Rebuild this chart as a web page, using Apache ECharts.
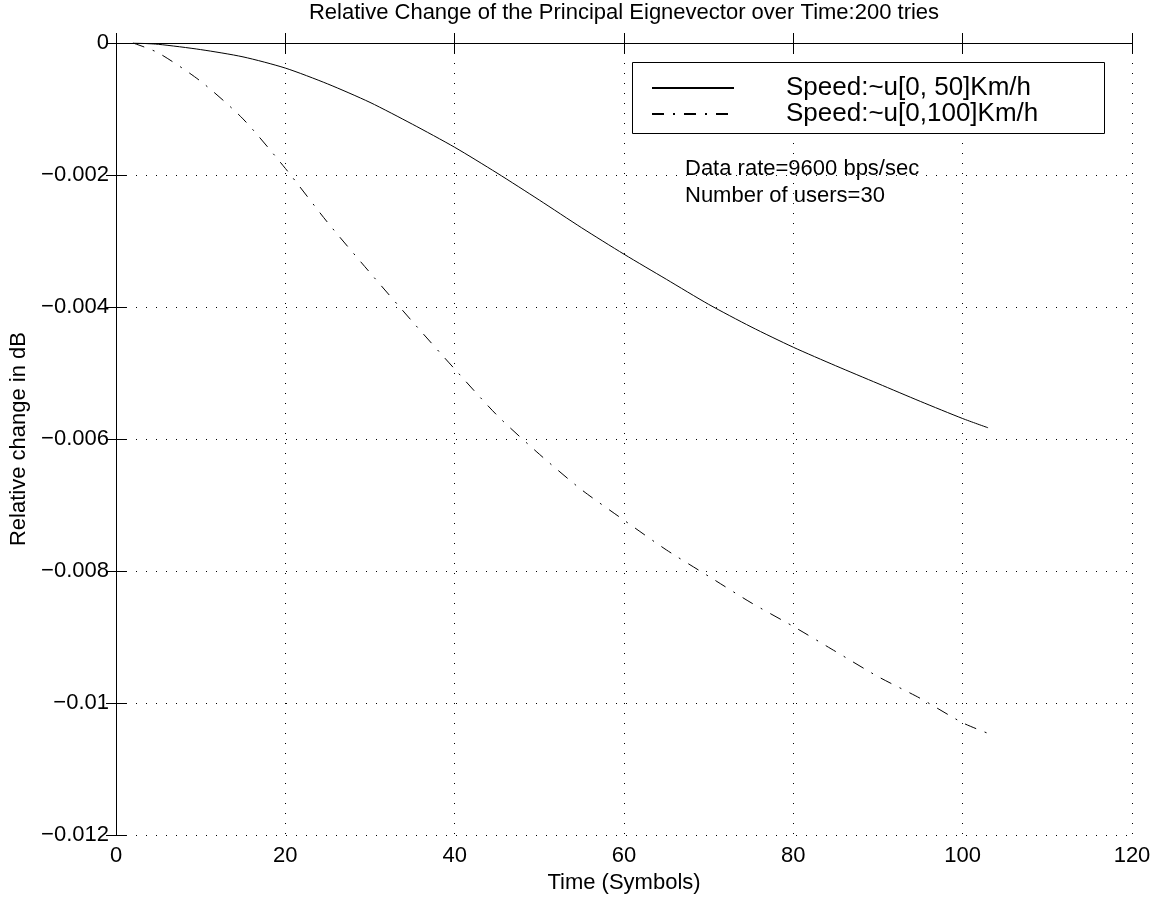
<!DOCTYPE html>
<html>
<head>
<meta charset="utf-8">
<script src="https://cdn.jsdelivr.net/npm/echarts@6/dist/echarts.min.js"></script>
<style>
html,body{margin:0;padding:0;background:#fff;}
#chart{width:1163px;height:900px;}
</style>
</head>
<body>
<div id="chart"></div>
<script>
// ---- data ----
var titleText = 'Relative Change of the Principal Eignevector over Time:200 tries';
var xAxisName = 'Time (Symbols)';
var yAxisName = 'Relative change in dB';
var seriesNames = ['Speed:~u[0, 50]Km/h', 'Speed:~u[0,100]Km/h'];
var annotations = ['Data rate=9600 bps/sec', 'Number of users=30'];

var xValues = [2, 5, 10, 15, 20, 25, 30, 35, 40, 45, 50, 55, 60, 65, 70, 75, 80, 85, 90, 95, 100, 103];
var speed50 = [0, -0.00002, -0.0001, -0.00021, -0.00038, -0.00062, -0.0009, -0.00123, -0.00158, -0.00197,
  -0.00238, -0.0028, -0.0032, -0.00358, -0.00396, -0.0043, -0.00461, -0.00489, -0.00516, -0.00543, -0.00569, -0.00583];
var speed100 = [0, -0.00015, -0.00058, -0.00115, -0.0019, -0.00272, -0.00348, -0.00422, -0.00494, -0.00564,
  -0.00623, -0.00677, -0.00723, -0.00768, -0.00808, -0.00848, -0.00884, -0.00922, -0.0096, -0.00993, -0.0103, -0.01046];

var xMin = 0, xMax = 120, xStep = 20;
var yMin = -0.012, yMax = 0, yStep = 0.002;

// ---- chart ----
var FONT = 'Liberation Sans';
function pairs(xs, ys) { return xs.map(function (x, i) { return [x, ys[i]]; }); }
function yFmt(v) {
  var s = String(Number(v.toFixed(4)));
  return s.replace('-', '\u2212');
}
var gridLine = { show: true, lineStyle: { color: '#000', width: 1, type: [1, 9] } };
var axLine = { show: true, lineStyle: { color: '#000', width: 1 } };
var tick = { show: true, inside: true, length: 10, lineStyle: { color: '#000', width: 1 } };
var lbl = { color: '#000', fontSize: 22, fontFamily: FONT };

var chart = echarts.init(document.getElementById('chart'), null, { renderer: 'canvas' });
chart.setOption({
  backgroundColor: '#fff',
  animation: false,
  title: {
    text: titleText, left: 624, top: 2, textAlign: 'center', padding: 0,
    textStyle: { color: '#000', fontSize: 22, fontWeight: 'normal', fontFamily: FONT }
  },
  grid: { left: 116, right: 31, top: 43, bottom: 65, containLabel: false },
  xAxis: [
    {
      type: 'value', position: 'bottom', min: xMin, max: xMax, interval: xStep,
      axisLine: axLine, axisTick: tick, splitLine: gridLine,
      axisLabel: Object.assign({ margin: 10 }, lbl),
      name: xAxisName, nameLocation: 'middle', nameGap: 34,
      nameTextStyle: { color: '#000', fontSize: 22, fontFamily: FONT }
    },
    {
      type: 'value', position: 'top', min: xMin, max: xMax, interval: xStep,
      axisLine: axLine, axisTick: tick, splitLine: { show: false }, axisLabel: { show: false }
    }
  ],
  yAxis: [
    {
      type: 'value', position: 'left', min: yMin, max: yMax, interval: yStep,
      axisLine: axLine, axisTick: tick, splitLine: gridLine,
      axisLabel: Object.assign({ margin: 7, formatter: yFmt }, lbl),
      name: yAxisName, nameLocation: 'middle', nameGap: 82, nameRotate: 90,
      nameTextStyle: { color: '#000', fontSize: 22, fontFamily: FONT }
    },
    {
      type: 'value', position: 'right', min: yMin, max: yMax, interval: yStep,
      axisLine: axLine, axisTick: tick, splitLine: { show: false }, axisLabel: { show: false }
    }
  ],
  legend: {
    orient: 'vertical', left: 651, top: 75, padding: 0, itemGap: 0,
    itemWidth: 82, itemHeight: 14, z: 10,
    data: seriesNames,
    itemStyle: { opacity: 0, borderWidth: 0 },
    textStyle: { color: '#000', fontSize: 26, lineHeight: 25, fontFamily: FONT, padding: [0, 0, 0, 47] }
  },
  graphic: [
    {
      type: 'rect', z: 5, left: 632, top: 62,
      shape: { width: 472, height: 71 },
      style: { fill: '#fff', stroke: '#000', lineWidth: 1 }
    },
    {
      type: 'text', z: 5, left: 685, top: 158,
      style: { text: annotations[0], fill: '#000', font: '22px "' + FONT + '"' }
    },
    {
      type: 'text', z: 5, left: 685, top: 185,
      style: { text: annotations[1], fill: '#000', font: '22px "' + FONT + '"' }
    }
  ],
  series: [
    {
      name: seriesNames[0], type: 'line', xAxisIndex: 0, yAxisIndex: 0,
      data: pairs(xValues, speed50), symbol: 'none', showSymbol: false, smooth: 0.25,
      lineStyle: { color: '#000', width: 1, type: 'solid' }, itemStyle: { color: '#000' }
    },
    {
      name: seriesNames[1], type: 'line', xAxisIndex: 0, yAxisIndex: 0,
      data: pairs(xValues, speed100), symbol: 'none', showSymbol: false, smooth: 0.25,
      lineStyle: { color: '#000', width: 1, type: [12, 9, 2, 9] }, itemStyle: { color: '#000' }
    }
  ]
});
</script>
</body>
</html>
